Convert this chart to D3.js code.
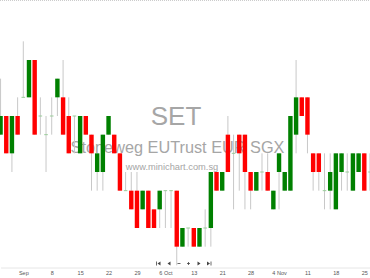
<!DOCTYPE html>
<html><head><meta charset="utf-8">
<script src="https://cdn.jsdelivr.net/npm/d3@7"></script>
<style>html,body{margin:0;padding:0;background:#fff;overflow:hidden}</style>
</head><body><svg id="c" width="370" height="278"></svg>
<script>
const dates = ["2025-08-26","2025-08-27","2025-08-28","2025-08-29",
"2025-09-01","2025-09-02","2025-09-03","2025-09-04","2025-09-05",
"2025-09-08","2025-09-09","2025-09-10","2025-09-11","2025-09-12",
"2025-09-15","2025-09-16","2025-09-17","2025-09-18","2025-09-19",
"2025-09-22","2025-09-23","2025-09-24","2025-09-25","2025-09-26",
"2025-09-29","2025-09-30","2025-10-01","2025-10-02","2025-10-03",
"2025-10-06","2025-10-07","2025-10-08","2025-10-09","2025-10-10",
"2025-10-13","2025-10-14","2025-10-15","2025-10-16","2025-10-17",
"2025-10-21","2025-10-22","2025-10-23","2025-10-24",
"2025-10-27","2025-10-28","2025-10-29","2025-10-30","2025-10-31",
"2025-11-03","2025-11-04","2025-11-05","2025-11-06","2025-11-07",
"2025-11-10","2025-11-11","2025-11-12","2025-11-13","2025-11-14",
"2025-11-17","2025-11-18","2025-11-19","2025-11-20","2025-11-21",
"2025-11-24","2025-11-25","2025-11-26"];
const open = [1.66,1.67,1.65,1.67,1.68,1.68,1.70,1.67,1.66,1.67,
1.68,1.68,1.67,1.67,1.65,1.67,1.66,1.64,1.64,1.66,
1.66,1.65,1.63,1.63,1.63,1.62,1.63,1.62,1.62,1.63,
1.63,1.63,1.60,1.61,1.61,1.60,1.61,1.61,1.64,1.63,
1.66,1.65,1.66,1.66,1.64,1.63,1.64,1.64,1.62,1.64,
1.63,1.63,1.66,1.68,1.68,1.65,1.65,1.63,1.63,1.62,
1.64,1.64,1.63,1.64,1.65,1.64];
const high = [1.69,1.67,1.67,1.68,1.71,1.70,1.70,1.68,1.67,1.68,
1.69,1.70,1.68,1.67,1.67,1.67,1.66,1.65,1.66,1.67,
1.66,1.65,1.64,1.64,1.64,1.63,1.63,1.62,1.63,1.63,
1.63,1.63,1.61,1.61,1.61,1.61,1.62,1.64,1.64,1.64,
1.67,1.66,1.66,1.66,1.64,1.64,1.65,1.65,1.63,1.65,
1.64,1.67,1.70,1.68,1.68,1.65,1.65,1.65,1.65,1.65,
1.65,1.65,1.65,1.65,1.65,1.65];
const low = [1.66,1.65,1.64,1.66,1.68,1.68,1.66,1.66,1.64,1.66,
1.67,1.66,1.65,1.65,1.65,1.66,1.63,1.63,1.63,1.66,
1.65,1.63,1.63,1.62,1.61,1.62,1.61,1.61,1.61,1.61,
1.61,1.59,1.60,1.60,1.60,1.60,1.60,1.60,1.63,1.63,
1.64,1.62,1.63,1.62,1.62,1.63,1.63,1.63,1.62,1.62,
1.63,1.63,1.65,1.67,1.65,1.63,1.63,1.62,1.62,1.62,
1.63,1.63,1.63,1.64,1.63,1.63];
const close = [1.67,1.65,1.67,1.66,1.68,1.70,1.66,1.67,1.66,1.67,
1.69,1.66,1.65,1.67,1.67,1.66,1.65,1.65,1.66,1.67,
1.65,1.63,1.63,1.62,1.61,1.63,1.61,1.61,1.63,1.63,
1.63,1.60,1.61,1.61,1.60,1.61,1.61,1.64,1.63,1.64,
1.64,1.65,1.65,1.64,1.63,1.64,1.64,1.63,1.63,1.65,
1.64,1.67,1.68,1.67,1.66,1.64,1.64,1.63,1.64,1.65,
1.65,1.64,1.65,1.65,1.63,1.64];
const tickDates = ["2025-09-01","2025-09-08","2025-09-15","2025-09-22","2025-09-29","2025-10-06","2025-10-13","2025-10-21","2025-10-28","2025-11-04","2025-11-11","2025-11-18","2025-11-25"];
const tickLabels = ["Sep","8","15","22","29","6 Oct","13","21","28","4 Nov","11","18","25"];
const watermark = {code:"SET", name:"Stoneweg EUTrust EUR SGX", site:"www.minichart.com.sg"};

const W = 370, H = 278;
const svg = d3.select("#c");
const font = "'Liberation Sans', Arial, sans-serif";
const data = dates.map((d,i)=>({d, o:open[i], h:high[i], l:low[i], c:close[i]}));

const x = d3.scalePoint().domain(dates).range([0.57, 369.97]);
const y = d3.scaleLinear().domain([1.60, 1.70]).range([246.67, 60]);

// frame
svg.append("line").attr("x1",0).attr("x2",W).attr("y1",0.5).attr("y2",0.5)
  .attr("stroke","#cccccc").attr("stroke-dasharray","1,1");

// watermark
const wm = svg.append("g").attr("font-family",font).attr("text-anchor","middle").attr("fill","#a6a6a6");
wm.append("text").attr("x",176).attr("y",125).attr("font-size",26).text(watermark.code);
wm.append("text").attr("x",177.5).attr("y",153).attr("font-size",16.3).text(watermark.name);
wm.append("text").attr("x",172).attr("y",169.5).attr("font-size",9.3).text(watermark.site);

// candles
const g = svg.append("g");
g.selectAll("line.wick").data(data).join("line").attr("class","wick")
  .attr("x1",d=>x(d.d)).attr("x2",d=>x(d.d))
  .attr("y1",d=>y(d.h)).attr("y2",d=>y(d.l))
  .attr("stroke","#c8c8c8").attr("stroke-width",1);
const bw = 4.4;
const isDoji = d => Math.abs(d.o-d.c) < 1e-9;
g.selectAll("rect.body").data(data.filter(d=>!isDoji(d))).join("rect").attr("class","body")
  .attr("x",d=>x(d.d)-bw/2).attr("width",bw)
  .attr("y",d=>y(Math.max(d.o,d.c)))
  .attr("height",d=>Math.abs(y(d.o)-y(d.c)))
  .attr("fill",d=>d.c>d.o?"#008000":"#ff0000");
g.selectAll("line.doji").data(data.filter(isDoji)).join("line").attr("class","doji")
  .attr("x1",d=>x(d.d)-1.8).attr("x2",d=>x(d.d)+1.8)
  .attr("y1",d=>y(d.o)).attr("y2",d=>y(d.o))
  .attr("stroke","#99cc99").attr("stroke-width",1);

// x axis
const ax = svg.append("g").attr("transform","translate(0,267.5)")
  .call(d3.axisBottom(x).tickValues(tickDates).tickFormat((d,i)=>tickLabels[i]).tickSize(0).tickPadding(3.5));
ax.select(".domain").attr("stroke","#e6e6e6");
ax.selectAll("text").attr("font-family",font).attr("font-size",5.5).attr("fill","#555");

// navigation icons
const nav = svg.append("g").attr("fill","#444").attr("stroke","#444").attr("stroke-width",0.8);
const ny = 263.5;
nav.append("line").attr("x1",156.5).attr("x2",156.5).attr("y1",ny-2).attr("y2",ny+2);
nav.append("path").attr("stroke","none").attr("d",`M157.5,${ny} L160.5,${ny-2} L160.5,${ny+2} Z`);
nav.append("path").attr("stroke","none").attr("d",`M167.5,${ny} L170.5,${ny-2} L170.5,${ny+2} Z`);
nav.append("line").attr("x1",177.5).attr("x2",180.5).attr("y1",ny).attr("y2",ny);
nav.append("line").attr("x1",187).attr("x2",190).attr("y1",ny).attr("y2",ny);
nav.append("line").attr("x1",188.5).attr("x2",188.5).attr("y1",ny-1.5).attr("y2",ny+1.5);
nav.append("path").attr("stroke","none").attr("d",`M200.5,${ny} L197.5,${ny-2} L197.5,${ny+2} Z`);
nav.append("path").attr("stroke","none").attr("d",`M210,${ny} L207,${ny-2} L207,${ny+2} Z`);
nav.append("line").attr("x1",211).attr("x2",211).attr("y1",ny-2).attr("y2",ny+2);
</script></body></html>
